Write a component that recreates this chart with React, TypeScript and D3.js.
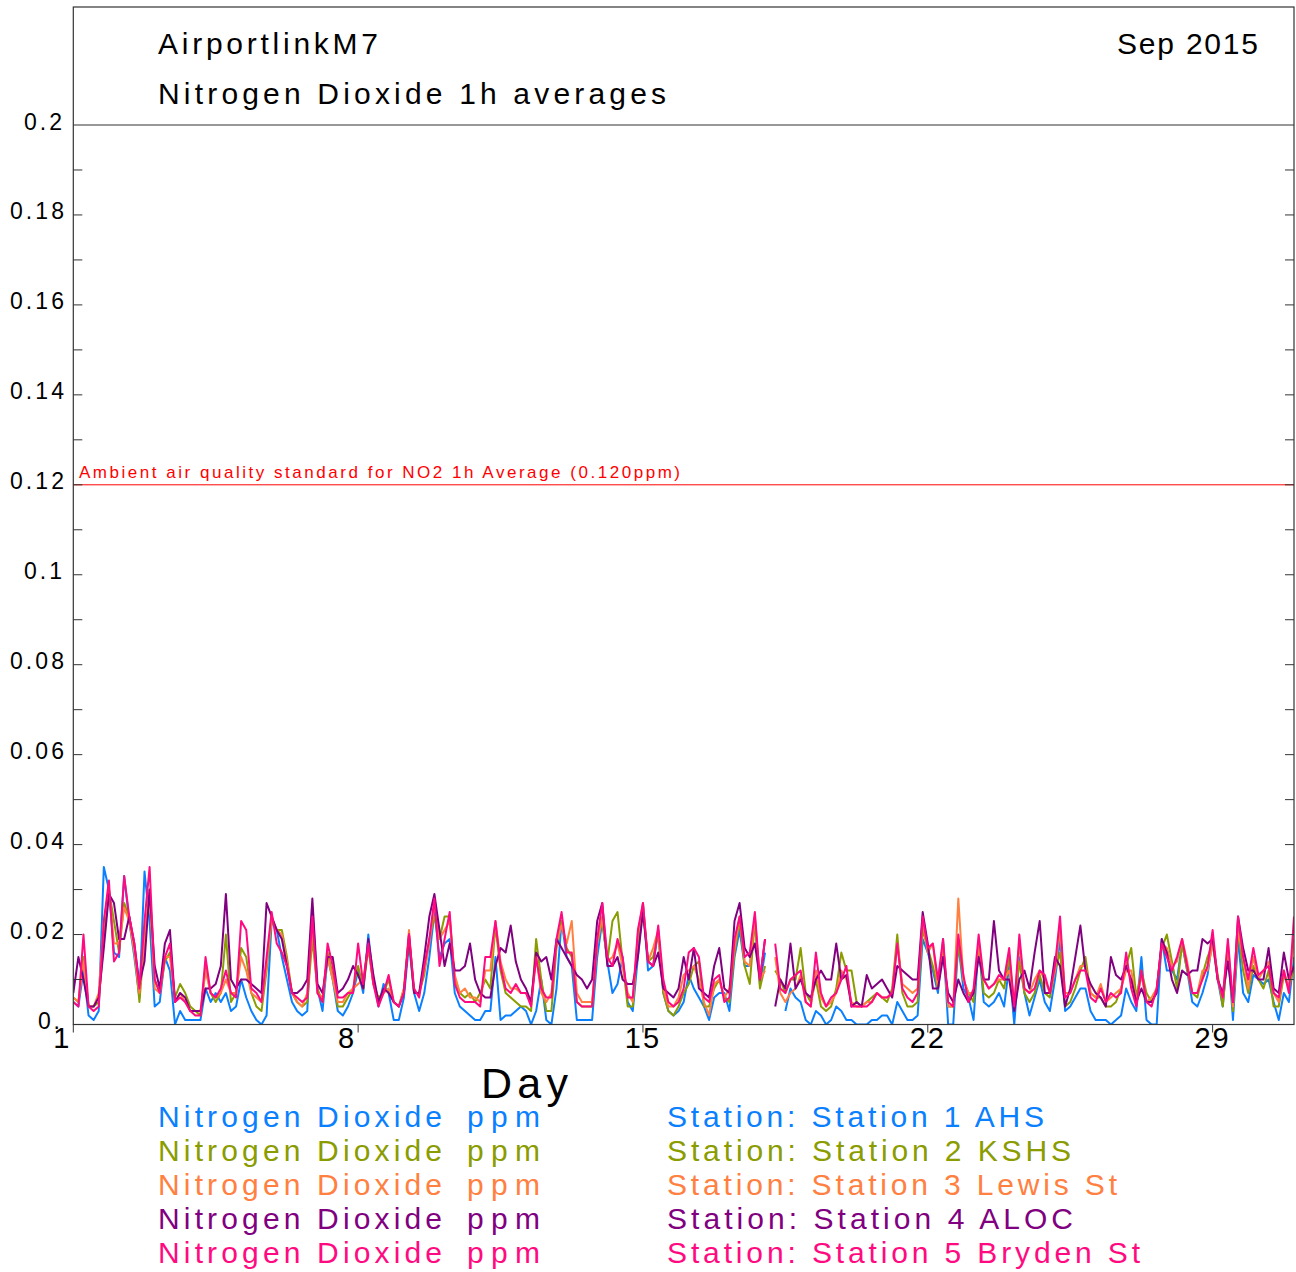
import * as d3 from "d3";

// NO2 1h averages, sampled every 3 hours (8 per day) from 1 Sep 00:00 to 1 Oct 00:00, in ppb
const stations = [
  "Station 1 AHS",
  "Station 2 KSHS",
  "Station 3 Lewis St",
  "Station 4 ALOC",
  "Station 5 Bryden St",
];
const colors = ["#0a80ff", "#8a9c00", "#ff8040", "#800080", "#ff0a80"];
const legendWidths = [377, 404, 450, 406, 473];

const dayTicks = [1, 8, 15, 22, 29];
const yTicks = [0, 0.02, 0.04, 0.06, 0.08, 0.1, 0.12, 0.14, 0.16, 0.18, 0.2];
const yLabels = ["0.", "0.02", "0.04", "0.06", "0.08", "0.1", "0.12", "0.14", "0.16", "0.18", "0.2"];

const ahs = [
  5, 4, 12, 2, 1, 3, 35, 30,
  16, 15, 33, 23, 15, 6, 34, 23,
  4, 5, 15, 12, 0, 3, 1, 1,
  1, 1, 8, 5, 7, 5, 7, 3,
  4, 10, 6, 3, 1, 0, 2, 23,
  21, 15, 10, 5, 3, 2, 3, 26,
  8, 3, 15, 10, 3, 2, 4, 7,
  12, 7, 20, 10, 4, 9, 7, 1,
  1, 6, 18, 7, 3, 7, 15, 25,
  15, 18, 19, 7, 4, 3, 2, 1,
  1, 3, 3, 15, 1, 2, 2, 3,
  4, 3, 0, 3, 10, 1, 0, 8,
  23, 15, 13, 1, 1, 1, 1, 15,
  23, 14, 7, 9, 15, 5, 3, 15,
  27, 12, 13, 21, 7, 3, 2, 3,
  5, 11, 8, 6, 4, 1, 6, 7,
  7, 3, 15, 21, 13, 13, 23, 9,
  16, null, null, null, 3, 8, 6, 5,
  1, 0, 3, 2, 0, 1, 4, 3,
  1, 1, 0, 0, 0, 1, 1, 2,
  2, 0, 5, 3, 1, 1, 2, 19,
  16, 12, 7, 19, 0, 0, 18, 8,
  6, 1, 18, 5, 4, 5, 7, 4,
  13, 0, 15, 7, 2, 6, 10, 5,
  3, 10, 19, 3, 4, 6, 8, 8,
  3, 1, 1, 1, 0, 1, 2, 8,
  5, 3, 15, 1, 0, 0, 19, 12,
  12, 10, 18, 12, 5, 4, 7, 11,
  19, 10, 4, 17, 1, 19, 7, 5,
  11, 10, 9, 10, 5, 1, 7, 5,
  15,
];

const kshs = [
  6, 5, 15, 4, 4, 5, 19, 30,
  23, 16, 27, 24, 17, 5, 19, 29,
  10, 7, 14, 16, 6, 9, 7, 4,
  3, 2, 13, 7, 5, 7, 20, 5,
  7, 17, 15, 7, 4, 3, 12, 23,
  21, 21, 15, 7, 5, 4, 5, 19,
  8, 5, 16, 11, 4, 4, 6, 8,
  13, 8, 17, 9, 6, 7, 10, 5,
  4, 8, 19, 7, 7, 11, 19, 24,
  19, 24, 24, 10, 7, 6, 7, 5,
  7, 10, 8, 22, 12, 7, 6, 5,
  4, 4, 3, 19, 10, 3, 3, 17,
  23, 17, 15, 5, 4, 4, 4, 18,
  23, 14, 23, 25, 14, 4, 4, 19,
  26, 14, 15, 20, 7, 3, 2, 4,
  7, 9, 13, 14, 4, 4, 8, 10,
  6, 5, 16, 23, 13, 9, 23, 8,
  13, null, 12, 10, 7, 10, 10, 17,
  7, 5, 10, 4, 3, 4, 8, 16,
  12, 12, 5, 4, 5, 6, 7, 6,
  5, 8, 20, 7, 4, 4, 5, 21,
  17, 13, 8, 18, 4, 4, 18, 10,
  7, 5, 18, 7, 6, 7, 10, 8,
  15, 4, 14, 7, 5, 7, 11, 7,
  6, 12, 16, 4, 5, 8, 12, 15,
  7, 6, 6, 4, 4, 5, 8, 13,
  17, 6, 12, 7, 5, 8, 17, 20,
  14, 8, 18, 12, 7, 6, 11, 15,
  18, 11, 4, 17, 3, 21, 12, 7,
  13, 10, 8, 12, 4, 4, 11, 8,
  13,
];

const lewisSt = [
  6, 5, 14, 4, 4, 7, 23, 30,
  18, 18, 26, 23, 16, 7, 19, 30,
  8, 7, 15, 15, 5, 7, 5, 3,
  3, 3, 12, 7, 6, 7, 10, 7,
  7, 15, 12, 7, 6, 5, 13, 24,
  21, 20, 14, 7, 5, 4, 7, 22,
  7, 6, 15, 10, 5, 5, 7, 8,
  9, 10, 18, 9, 5, 7, 8, 5,
  4, 8, 21, 7, 7, 12, 18, 27,
  19, 21, 23, 11, 7, 8, 6, 6,
  5, 12, 12, 23, 14, 10, 8, 8,
  7, 7, 5, 15, 7, 5, 7, 18,
  22, 18, 23, 7, 5, 5, 5, 18,
  24, 14, 15, 18, 13, 7, 5, 20,
  27, 14, 17, 21, 8, 4, 4, 6,
  11, 12, 13, 10, 5, 2, 9, 10,
  6, 8, 17, 24, 14, 13, 24, 10,
  12, null, 15, 7, 5, 7, 8, 11,
  5, 4, 12, 6, 4, 5, 7, 12,
  10, 5, 4, 4, 5, 5, 7, 6,
  6, 7, 18, 9, 8, 7, 8, 23,
  16, 18, 8, 18, 4, 4, 28, 10,
  7, 7, 18, 10, 8, 9, 10, 10,
  12, 4, 18, 8, 7, 10, 12, 10,
  7, 12, 21, 7, 7, 10, 13, 13,
  7, 6, 9, 5, 6, 7, 8, 12,
  12, 5, 11, 5, 6, 8, 18, 17,
  13, 14, 19, 14, 7, 7, 12, 12,
  18, 10, 6, 18, 4, 21, 15, 8,
  15, 10, 12, 14, 7, 5, 12, 8,
  19,
];

const aloc = [
  7, 15, 10, 4, 4, 6, 17, 29,
  27, 19, 19, 24, 18, 9, 14, 30,
  13, 8, 18, 21, 5, 7, 6, 3,
  3, 3, 8, 8, 9, 13, 29, 10,
  8, 10, 10, 9, 8, 7, 27, 24,
  21, 19, 13, 7, 7, 8, 10, 28,
  9, 7, 15, 15, 7, 8, 10, 13,
  11, 8, 19, 11, 5, 8, 7, 5,
  4, 7, 20, 7, 7, 15, 24, 29,
  21, 13, 18, 12, 12, 13, 18, 10,
  7, 6, 6, 13, 17, 16, 22, 14,
  10, 8, 5, 16, 14, 15, 10, 19,
  17, 15, 13, 11, 10, 8, 10, 23,
  27, 13, 13, 15, 10, 9, 9, 15,
  25, 14, 13, 16, 8, 7, 6, 8,
  15, 10, 17, 8, 7, 6, 13, 17,
  8, 7, 23, 27, 17, 15, 18, 10,
  19, null, 4, 10, 8, 18, 8, 10,
  7, 6, 10, 12, 10, 10, 18, 10,
  11, 4, 5, 4, 11, 8, 9, 10,
  8, 6, 13, 12, 11, 10, 10, 25,
  18, 8, 8, 15, 7, 5, 10, 7,
  5, 7, 15, 10, 10, 23, 12, 10,
  10, 3, 10, 12, 8, 16, 23, 7,
  7, 15, 13, 4, 8, 15, 22, 12,
  9, 7, 6, 4, 15, 11, 10, 13,
  10, 5, 8, 5, 5, 7, 19, 16,
  10, 7, 12, 11, 12, 12, 19, 18,
  19, 10, 7, 14, 5, 24, 17, 12,
  12, 10, 10, 17, 8, 7, 16, 10,
  13,
];

const brydenSt = [
  5, 4, 20, 4, 3, 4, 23, 32,
  14, 16, 33, 24, 18, 8, 23, 35,
  10, 7, 15, 18, 5, 6, 5, 3,
  2, 2, 15, 7, 6, 8, 12, 7,
  6, 23, 21, 8, 7, 5, 15, 25,
  18, 16, 13, 7, 6, 5, 6, 24,
  7, 5, 18, 13, 6, 6, 7, 7,
  18, 9, 18, 9, 4, 7, 11, 5,
  4, 7, 20, 8, 6, 13, 19, 28,
  13, 19, 25, 9, 6, 5, 5, 5,
  4, 15, 15, 23, 13, 8, 7, 9,
  7, 7, 4, 15, 8, 6, 6, 19,
  25, 16, 16, 5, 4, 4, 4, 19,
  27, 15, 13, 19, 15, 6, 6, 21,
  27, 14, 13, 22, 10, 5, 4, 5,
  8, 16, 17, 15, 6, 5, 10, 11,
  5, 6, 19, 24, 15, 16, 25, 10,
  19, null, 18, 8, 7, 10, 11, 12,
  5, 4, 16, 7, 4, 6, 7, 10,
  13, 4, 4, 4, 4, 5, 7, 6,
  6, 7, 18, 8, 6, 5, 7, 24,
  17, 18, 10, 19, 5, 4, 20, 11,
  5, 8, 20, 10, 8, 9, 11, 10,
  17, 4, 20, 8, 7, 8, 12, 11,
  7, 13, 24, 6, 7, 10, 12, 12,
  6, 5, 8, 5, 7, 6, 7, 16,
  8, 4, 12, 5, 4, 8, 18, 15,
  12, 15, 19, 13, 7, 7, 10, 13,
  21, 10, 6, 19, 5, 24, 15, 10,
  17, 11, 12, 13, 7, 6, 12, 7,
  24,
];

const series = [ahs, kshs, lewisSt, aloc, brydenSt];

const W = 1296;
const H = 1272;
const left = 73.3;
const right = 1294;
const top = 7;
const bottom = 1024.5;
const font = "'Liberation Sans', Arial, sans-serif";

export default function App() {
  const x = d3.scaleLinear().domain([1, 31]).range([left, right]);
  const y = d3.scaleLinear().domain([0, 0.2]).range([bottom, 125]);
  const minorTicks = d3.range(1, 20).map((i) => i / 100);

  const line = d3
    .line<number | null>()
    .defined((v) => v != null)
    .x((_, i) => x(1 + i / 8))
    .y((v) => y((v as number) / 1000));

  return (
    <svg
      width={W}
      height={H}
      style={{ position: "absolute", left: 0, top: 0, background: "#fff" }}
      fontFamily={font}
    >
      <defs>
        <clipPath id="plot">
          <rect x={left} y={top} width={right - left} height={bottom - top} />
        </clipPath>
      </defs>

      <g clipPath="url(#plot)">
        {series.map((s, i) => (
          <path
            key={stations[i]}
            d={line(s) ?? ""}
            fill="none"
            stroke={colors[i]}
            strokeWidth={2}
            strokeLinejoin="round"
          />
        ))}
      </g>

      {/* ambient standard */}
      <line x1={left} x2={right} y1={y(0.12)} y2={y(0.12)} stroke="#ff0000" strokeWidth={1} />
      <text x={79} y={478} fontSize={17} fill="#ff0000" textLength={601} lengthAdjust="spacing">
        Ambient air quality standard for NO2 1h Average (0.120ppm)
      </text>

      {/* frame */}
      <rect
        x={left}
        y={top}
        width={right - left}
        height={bottom - top}
        fill="none"
        stroke="#333"
        strokeWidth={1.2}
      />
      <line x1={left} x2={right} y1={y(0.2)} y2={y(0.2)} stroke="#333" strokeWidth={1.2} />

      {/* y ticks, inward on both sides */}
      {minorTicks.map((t) => (
        <g key={t}>
          <line x1={left} x2={left + 9} y1={y(t)} y2={y(t)} stroke="#333" />
          <line x1={right - 9} x2={right} y1={y(t)} y2={y(t)} stroke="#333" />
        </g>
      ))}
      {yTicks.map((t, i) => {
        const label = yLabels[i];
        const len = label.length === 4 ? 54 : label.length === 3 ? 38 : 22;
        const x0 = label.length === 4 ? 10 : label.length === 3 ? 24 : 38;
        return (
          <text
            key={t}
            x={x0}
            y={y(t) + 4.5}
            fontSize={23}
            fill="#000"
            textLength={len}
            lengthAdjust="spacing"
          >
            {label}
          </text>
        );
      })}

      {/* day ticks */}
      {dayTicks.map((d) => (
        <g key={d}>
          <line x1={x(d)} x2={x(d)} y1={bottom} y2={bottom + 8} stroke="#333" />
          <text
            x={d < 10 ? x(d) - 4 : x(d)}
            y={1048}
            fontSize={29}
            textAnchor={d < 10 ? "end" : "middle"}
            letterSpacing={d < 10 ? 0 : 2}
            fill="#000"
          >
            {d}
          </text>
        </g>
      ))}

      {/* titles */}
      <text x={158} y={54} fontSize={30} textLength={220} lengthAdjust="spacing">
        AirportlinkM7
      </text>
      <text x={158} y={104} fontSize={30} textLength={508} lengthAdjust="spacing">
        Nitrogen Dioxide 1h averages
      </text>
      <text x={1117} y={54} fontSize={30} textLength={141} lengthAdjust="spacing">
        Sep 2015
      </text>

      <text x={481} y={1098} fontSize={43} textLength={87} lengthAdjust="spacing">
        Day
      </text>

      {/* legend */}
      {stations.map((s, i) => {
        const ly = 1127 + i * 34;
        return (
          <g key={s} fill={colors[i]} fontSize={30}>
            <text x={158} y={ly} textLength={284} lengthAdjust="spacing">
              Nitrogen Dioxide
            </text>
            <text x={467} y={ly} textLength={73} lengthAdjust="spacing">
              ppm
            </text>
            <text x={667} y={ly} textLength={legendWidths[i]} lengthAdjust="spacing">
              {`Station: ${s}`}
            </text>
          </g>
        );
      })}
    </svg>
  );
}
